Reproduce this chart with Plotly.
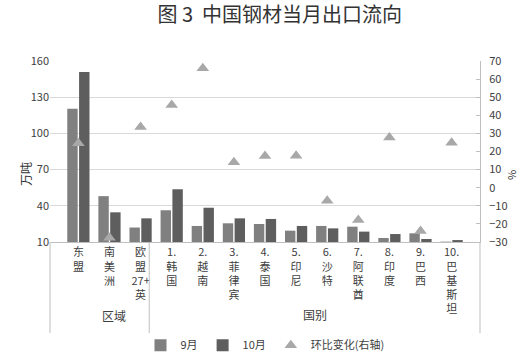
import plotly.graph_objects as go

categories = ["东盟", "南美洲", "欧盟27+英", "1.韩国", "2.越南", "3.菲律宾", "4.泰国",
              "5.印尼", "6.沙特", "7.阿联酋", "8.印度", "9.巴西", "10.巴基斯坦"]
tick_labels = ["东<br>盟", "南<br>美<br>洲", "欧<br>盟<br>27+<br>英", "1.<br>韩<br>国", "2.<br>越<br>南",
               "3.<br>菲<br>律<br>宾", "4.<br>泰<br>国", "5.<br>印<br>尼", "6.<br>沙<br>特",
               "7.<br>阿<br>联<br>酋", "8.<br>印<br>度", "9.<br>巴<br>西", "10.<br>巴<br>基<br>斯<br>坦"]
sep_vals = [120.5, 48, 22, 36.3, 23.3, 25.5, 24.9, 19.4, 23.3, 22.7, 13.3, 17.2, 10.3]
oct_vals = [150.8, 34.6, 29.6, 53.7, 38.4, 29.6, 29.1, 23.3, 21.3, 18.6, 16.6, 12.5, 11.6]
mom_vals = [24.5, -27.6, 33.5, 45.7, 66, 14, 17.5, 17.7, -7.2, -17.8, 27.8, -23.9, 24.9]
groups = ["区域", "国别"]

FONT = "Noto Sans CJK SC"

fig = go.Figure()
fig.add_trace(go.Bar(x=categories, y=sep_vals, name="9月", marker_color="#808080",
                     marker_line_width=0, base=0))
fig.add_trace(go.Bar(x=categories, y=oct_vals, name="10月", marker_color="#5e5e5e",
                     marker_line_width=0, base=0))
fig.add_trace(go.Scatter(x=categories, y=mom_vals, name="环比变化(右轴)", mode="markers",
                         yaxis="y2",
                         marker=dict(symbol="triangle-up", size=11, color="#a8a8a8")))

fig.update_layout(
    width=530, height=355,
    margin=dict(l=50, r=50, t=61, b=113, autoexpand=False),
    paper_bgcolor="white", plot_bgcolor="white",
    font=dict(family=FONT, size=11, color="#404040"),
    title=dict(text="图 3  中国钢材当月出口流向", x=0.528, xref="container", xanchor="center",
               y=0.958, yref="container", yanchor="middle",
               font=dict(family=FONT, size=20, color="#333333")),
    barmode="group", bargap=0.24, bargroupgap=0.12,
    showlegend=True,
    legend=dict(orientation="h", x=0.5, xanchor="center", y=-0.57, yanchor="middle",
                font=dict(size=11, color="#404040"), itemwidth=30, tracegroupgap=0,
                bgcolor="rgba(0,0,0,0)"),
    xaxis=dict(type="category", tickmode="array", tickvals=categories, ticktext=tick_labels,
               showline=True, linecolor="#bfbfbf", linewidth=1, ticks="", showgrid=False,
               tickangle=0, automargin=False, tickfont=dict(size=11, color="#404040")),
    yaxis=dict(range=[10, 160], dtick=30, tick0=10, showgrid=True, gridcolor="#d9d9d9",
               gridwidth=1, showline=False, zeroline=False, ticks="", automargin=False,
               tickfont=dict(size=11, color="#404040")),
    yaxis2=dict(overlaying="y", side="right", range=[-30, 70], dtick=10, tick0=-30,
                showgrid=False, zeroline=False, showline=True, linecolor="#bfbfbf",
                ticks="inside", ticklen=4, tickcolor="#bfbfbf", automargin=False,
                ticklabelstandoff=6, tickfont=dict(size=11, color="#404040")),
)

# y-axis titles
fig.add_annotation(text="万吨", xref="paper", yref="paper", x=-0.082, y=0.3,
                   showarrow=False, textangle=-90, font=dict(size=12, color="#333333"))
fig.add_annotation(text="%", xref="paper", yref="paper", x=1.095, y=0.37,
                   showarrow=False, textangle=-90, font=dict(size=11, color="#333333"))

# group separators and labels
n = len(categories)
for xp in [0, 3 / n, 1]:
    fig.add_shape(type="line", xref="paper", yref="paper", x0=xp, x1=xp, y0=0, y1=-0.503,
                  line=dict(color="#bfbfbf", width=1))
fig.add_annotation(text=groups[0], xref="paper", yref="paper", x=1.5 / n, y=-0.465,
                   showarrow=False, font=dict(size=12, color="#404040"))
fig.add_annotation(text=groups[1], xref="paper", yref="paper", x=8 / n, y=-0.46,
                   showarrow=False, font=dict(size=12, color="#404040"))

fig.write_html("out.html")
